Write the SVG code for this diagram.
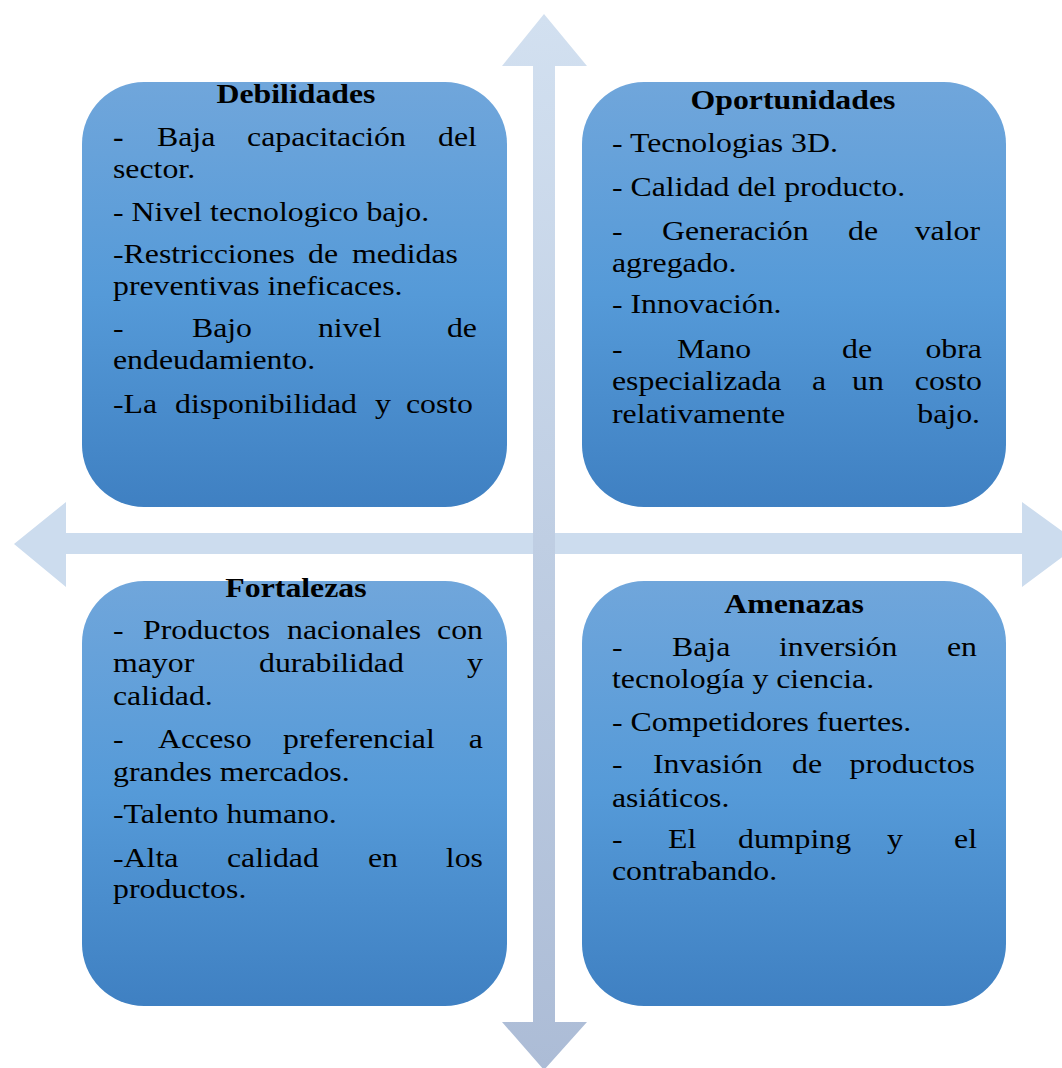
<svg xmlns="http://www.w3.org/2000/svg" width="1062" height="1068" viewBox="0 0 1062 1068">
<style>
text{font-family:"Liberation Serif","Times New Roman",serif;font-size:26.5px;fill:#000}
.t{font-weight:bold;text-anchor:middle}
.e{text-anchor:end}
.b{font-weight:bold}
.box{fill:url(#bg)}
</style>
<defs>
<linearGradient id="bg" x1="0" y1="0" x2="0" y2="1">
<stop offset="0" stop-color="#70a6db"/>
<stop offset="0.5" stop-color="#559ad8"/>
<stop offset="1" stop-color="#3f80c2"/>
</linearGradient>
<linearGradient id="vg" x1="0" y1="0" x2="0" y2="1">
<stop offset="0" stop-color="#d2e0f0"/>
<stop offset="1" stop-color="#acbcd6"/>
</linearGradient>
</defs>
<rect width="1062" height="1068" fill="#fff"/>
<g id="connectors">
<polygon fill="#ccdcee" points="14,544 66,502 66,533 1022,533 1022,502 1080,544 1022,587 1022,554 66,554 66,587"/>
<polygon fill="url(#vg)" points="544,14 587,66 555,66 555,1022 587,1022 544,1070 502,1022 533,1022 533,66 502,66"/>
</g>
<g id="debilidades">
<rect class="box" x="82" y="82" width="425" height="425" rx="62"/>
<g transform="translate(113,0) scale(1.2,1)">
<text class="t" x="152.5" y="103">Debilidades</text>
<text class="b" x="0" y="146">-</text><text x="36.7" y="146">Baja</text><text x="111.7" y="146">capacitación</text><text class="e" x="303.3" y="146">del</text>
<text x="0" y="178">sector.</text>
<text x="0" y="221">- Nivel tecnologico bajo.</text>
<text x="0" y="263">-Restricciones</text><text x="162.5" y="263">de</text><text class="e" x="287.5" y="263">medidas</text>
<text x="0" y="295">preventivas ineficaces.</text>
<text x="0" y="337">-</text><text x="65.8" y="337">Bajo</text><text x="170.8" y="337">nivel</text><text class="e" x="303.3" y="337">de</text>
<text x="0" y="369">endeudamiento.</text>
<text x="0" y="413">-La</text><text x="51.7" y="413">disponibilidad</text><text x="218.3" y="413">y</text><text class="e" x="300" y="413">costo</text>
</g>
</g>
<g id="oportunidades">
<rect class="box" x="582" y="82" width="424" height="425" rx="62"/>
<g transform="translate(612,0) scale(1.2,1)">
<text class="t" x="150.8" y="109">Oportunidades</text>
<text x="0" y="152">- Tecnologias 3D.</text>
<text x="0" y="196">- Calidad del producto.</text>
<text x="0" y="240">-</text><text x="41.7" y="240">Generación</text><text x="196.7" y="240">de</text><text class="e" x="306.7" y="240">valor</text>
<text x="0" y="272">agregado.</text>
<text x="0" y="313">- Innovación.</text>
<text x="0" y="358">-</text><text x="54.2" y="358">Mano</text><text x="191.7" y="358">de</text><text class="e" x="308.3" y="358">obra</text>
<text x="0" y="390">especializada</text><text x="166.7" y="390">a</text><text x="200" y="390">un</text><text class="e" x="308.3" y="390">costo</text>
<text x="0" y="423">relativamente</text><text class="e" x="306.7" y="423">bajo.</text>
</g>
</g>
<g id="fortalezas">
<rect class="box" x="82" y="581" width="425" height="425" rx="62"/>
<g transform="translate(113,0) scale(1.2,1)">
<text class="t" x="152.5" y="597">Fortalezas</text>
<text x="0" y="639">-</text><text x="25" y="639">Productos</text><text x="145" y="639">nacionales</text><text class="e" x="308.3" y="639">con</text>
<text x="0" y="672">mayor</text><text x="121.7" y="672">durabilidad</text><text class="e" x="308.3" y="672">y</text>
<text x="0" y="705">calidad.</text>
<text x="0" y="748">-</text><text x="37.5" y="748">Acceso</text><text x="141.7" y="748">preferencial</text><text class="e" x="308.3" y="748">a</text>
<text x="0" y="781">grandes mercados.</text>
<text x="0" y="823">-Talento humano.</text>
<text x="0" y="867">-Alta</text><text x="95" y="867">calidad</text><text x="212.5" y="867">en</text><text class="e" x="308.3" y="867">los</text>
<text x="0" y="898">productos.</text>
</g>
</g>
<g id="amenazas">
<rect class="box" x="582" y="581" width="424" height="425" rx="62"/>
<g transform="translate(612,0) scale(1.2,1)">
<text class="t" x="151.7" y="613">Amenazas</text>
<text x="0" y="656">-</text><text x="50" y="656">Baja</text><text x="139.2" y="656">inversión</text><text class="e" x="304.2" y="656">en</text>
<text x="0" y="688">tecnología y ciencia.</text>
<text x="0" y="731">- Competidores fuertes.</text>
<text x="0" y="773">-</text><text x="34.2" y="773">Invasión</text><text x="150" y="773">de</text><text class="e" x="302.5" y="773">productos</text>
<text x="0" y="807">asiáticos.</text>
<text x="0" y="848">-</text><text x="46.7" y="848">El</text><text x="105" y="848">dumping</text><text x="229.2" y="848">y</text><text class="e" x="304.2" y="848">el</text>
<text x="0" y="880">contrabando.</text>
</g>
</g>
</svg>
